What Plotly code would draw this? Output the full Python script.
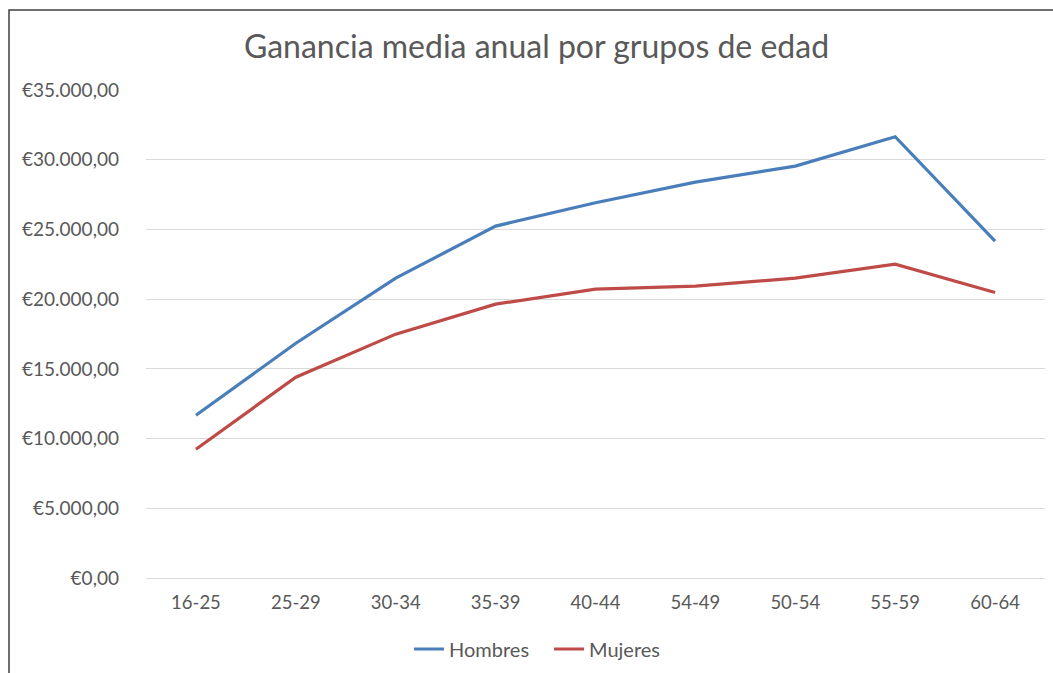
import plotly.graph_objects as go

categorias = ["16-25", "25-29", "30-34", "35-39", "40-44", "54-49", "50-54", "55-59", "60-64"]
hombres = [11676, 16840, 21507, 25239, 26911, 28396, 29544, 31647, 24162]
mujeres = [9236, 14403, 17489, 19641, 20717, 20932, 21507, 22512, 20480]
y_ticks = [0, 5000, 10000, 15000, 20000, 25000, 30000, 35000]
y_ticktext = ["€0,00", "€5.000,00", "€10.000,00", "€15.000,00", "€20.000,00",
              "€25.000,00", "€30.000,00", "€35.000,00"]

W, H = 1053, 673
ml, mr, mt, mb = 146, 8, 90, 95
pw = W - ml - mr
ph = H - mt - mb

fig = go.Figure()
fig.add_trace(go.Scatter(x=categorias, y=hombres, name="Hombres", mode="lines",
                         line=dict(color="#4a7ebb", width=3.2)))
fig.add_trace(go.Scatter(x=categorias, y=mujeres, name="Mujeres", mode="lines",
                         line=dict(color="#be4b48", width=3.2)))

font_family = "Lato, Open Sans, sans-serif"
fig.update_layout(
    width=W, height=H,
    margin=dict(l=ml, r=mr, t=mt, b=mb, autoexpand=False),
    paper_bgcolor="white", plot_bgcolor="white",
    title=dict(text="Ganancia media anual por grupos de edad", x=536.5 / W, xanchor="center",
               y=1 - 47 / H, yanchor="middle",
               font=dict(family=font_family, size=32, color="#595959")),
    font=dict(family=font_family, color="#595959", size=18),
    showlegend=True,
    legend=dict(orientation="h", x=(414 - 5 - ml) / pw, xanchor="left",
                y=-(649 - (H - mb)) / ph, yanchor="middle",
                font=dict(size=20, color="#595959"), tracegroupgap=0,
                entrywidth=95, entrywidthmode="pixels"),
    xaxis=dict(type="category", showgrid=False, showline=True, linecolor="#d9d9d9", linewidth=1,
               ticks="", tickfont=dict(size=18.5, color="#595959"), range=[-0.5, 8.5],
               ticklabelstandoff=8, fixedrange=True),
    yaxis=dict(range=[0, 35000], tickvals=y_ticks, ticktext=y_ticktext,
               showgrid=True, gridcolor="#d9d9d9", gridwidth=1, zeroline=False,
               ticks="", ticklabelstandoff=26, tickfont=dict(size=19, color="#595959"),
               fixedrange=True),
)

# chart border
fig.add_shape(type="rect", xref="paper", yref="paper",
              x0=(9 - ml) / pw, x1=(W + 20 - ml) / pw,
              y0=-(H + 20 - (H - mb)) / ph, y1=(H - mb - 10) / ph,
              line=dict(color="#404040", width=1.5), fillcolor="rgba(0,0,0,0)", layer="below")

fig.write_html("out.html", config={"displayModeBar": False},
               post_script="document.body.style.margin='0';")
